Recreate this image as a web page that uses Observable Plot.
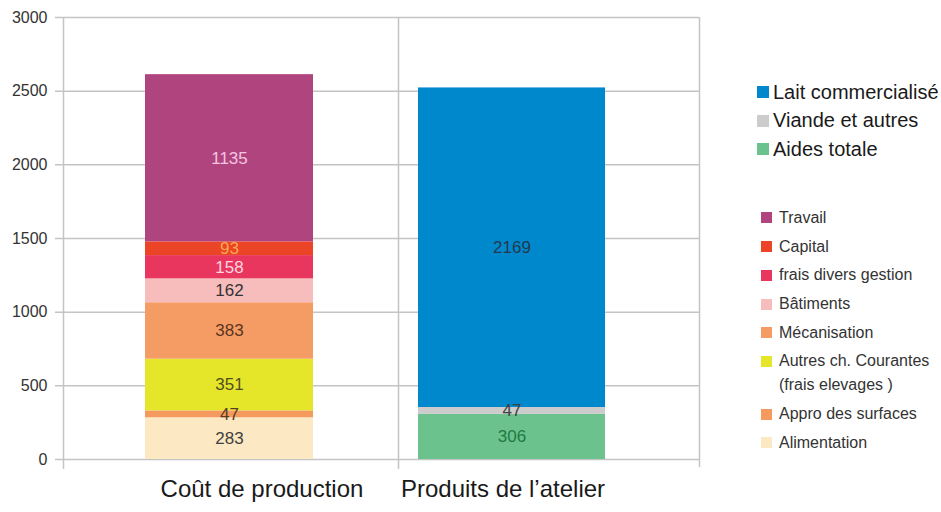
<!DOCTYPE html>
<html><head><meta charset="utf-8">
<script src="https://cdn.jsdelivr.net/npm/d3@7"></script>
<script src="https://cdn.jsdelivr.net/npm/@observablehq/plot@0.6"></script>
<style>
body{margin:0;background:#fff;}
#wrap{position:relative;width:941px;height:512px;overflow:hidden;font-family:"Liberation Sans",Arial,sans-serif;}
#wrap svg{position:absolute;left:0;top:0;}
.lg1{position:absolute;left:757px;top:77.75px;font-size:20px;color:#1a1a1a;}
.lg1 .row{display:flex;align-items:center;height:28.5px;white-space:nowrap;}
.lg1 .sw{width:12px;height:12px;margin-right:4px;flex:none;}
.lg2{position:absolute;left:761px;top:203.6px;font-size:16px;color:#333;font-family:"Liberation Sans Narrow","Arial Narrow","Liberation Sans",sans-serif;}
.lg2 .row{display:flex;align-items:flex-start;line-height:24px;padding:2.35px 0;white-space:pre-line;}
.lg2 .sw{width:11px;height:11px;margin-top:6.5px;margin-right:7px;flex:none;}
</style></head><body><div id="wrap"></div>
<script>
// ---- data ----
const categories = ["Coût de production", "Produits de l’atelier"];
const costSeries = ["Alimentation", "Appro des surfaces", "Autres ch. Courantes\n(frais elevages )", "Mécanisation", "Bâtiments", "frais divers gestion", "Capital", "Travail"];
const costValues = [283, 47, 351, 383, 162, 158, 93, 1135];
const productSeries = ["Aides totale", "Viande et autres", "Lait commercialisé"];
const productValues = [306, 47, 2169];
const yTicks = [0, 500, 1000, 1500, 2000, 2500, 3000];

// ---- palette ----
const costColors = ["#fce9c4", "#f59a5e", "#e5e52a", "#f59c64", "#f7bcbc", "#e8365f", "#ec4426", "#b0447e"];
const costTextColors = ["#404040", "#5a3a20", "#50501f", "#5c3520", "#333333", "#fdd5e0", "#f7a850", "#f5c5e0"];
const productColors = ["#6cc28d", "#cccccc", "#0088cc"];
const productTextColors = ["#1f7a3f", "#404040", "#24384f"];

const costData = costSeries.map((s, i) => ({cat: categories[0], series: s, value: costValues[i], color: costColors[i], tcolor: costTextColors[i]}));
const prodData = productSeries.map((s, i) => ({cat: categories[1], series: s, value: productValues[i], color: productColors[i], tcolor: productTextColors[i]}));

const W = 941, H = 512, mL = 63, mR = 242, mT = 17, mB = 53;
const grid = "#c4c4c4";

const chart = Plot.plot({
  width: W, height: H,
  marginLeft: mL, marginRight: mR, marginTop: mT, marginBottom: mB,
  style: {fontFamily: "Liberation Sans, Arial, sans-serif", fontSize: "16px", color: "#333", background: "transparent"},
  x: {domain: categories, range: [mL, 733], padding: 0, axis: null},
  y: {domain: [0, 3000], ticks: yTicks, tickSize: 0, tickPadding: 16, tickFormat: "d", label: null},
  color: {type: "identity"},
  marks: [
    Plot.ruleY(yTicks, {stroke: grid, strokeWidth: 1.5, insetLeft: -8}),
    Plot.ruleX(categories, {x: d => d, dx: -167.5, stroke: grid, strokeWidth: 1.5, insetBottom: -10}),
    Plot.ruleX([categories[1]], {x: d => d, dx: 133.5, stroke: grid, strokeWidth: 1.5, insetBottom: -8}),
    Plot.barY(costData, Plot.stackY({x: "cat", y: "value", z: "series", fill: "color", insetLeft: 82, insetRight: 85})),
    Plot.barY(prodData, Plot.stackY({x: "cat", y: "value", z: "series", fill: "color", insetLeft: 20, insetRight: 128})),
    Plot.text(costData, Plot.stackY({x: "cat", y: "value", z: "series", text: d => String(d.value), fill: "tcolor", fontSize: 17, dx: -1.5})),
    Plot.text(prodData, Plot.stackY({x: "cat", y: "value", z: "series", text: d => String(d.value), fill: "tcolor", fontSize: 17, dx: -54})),
    Plot.text([categories[0]], {x: d => d, text: d => d, frameAnchor: "bottom", dy: 37, dx: 31, fontSize: 24, fill: "#1a1a1a"}),
    Plot.text([categories[1]], {x: d => d, text: d => d, frameAnchor: "bottom", dy: 37, dx: -63, fontSize: 24, fill: "#1a1a1a"})
  ]
});

const wrap = document.getElementById("wrap");
wrap.appendChild(chart);

// ---- legends ----
const lg1 = document.createElement("div");
lg1.className = "lg1";
productSeries.map((s, i) => ({s, c: productColors[i]})).reverse().forEach(({s, c}) => {
  const r = document.createElement("div"); r.className = "row";
  const sw = document.createElement("span"); sw.className = "sw"; sw.style.background = c;
  const t = document.createElement("span"); t.textContent = s;
  r.appendChild(sw); r.appendChild(t); lg1.appendChild(r);
});
wrap.appendChild(lg1);

const lg2 = document.createElement("div");
lg2.className = "lg2";
costSeries.map((s, i) => ({s, c: costColors[i]})).reverse().forEach(({s, c}) => {
  const r = document.createElement("div"); r.className = "row";
  const sw = document.createElement("span"); sw.className = "sw"; sw.style.background = c;
  const t = document.createElement("span"); t.textContent = s;
  r.appendChild(sw); r.appendChild(t); lg2.appendChild(r);
});
wrap.appendChild(lg2);
</script>
</body></html>
